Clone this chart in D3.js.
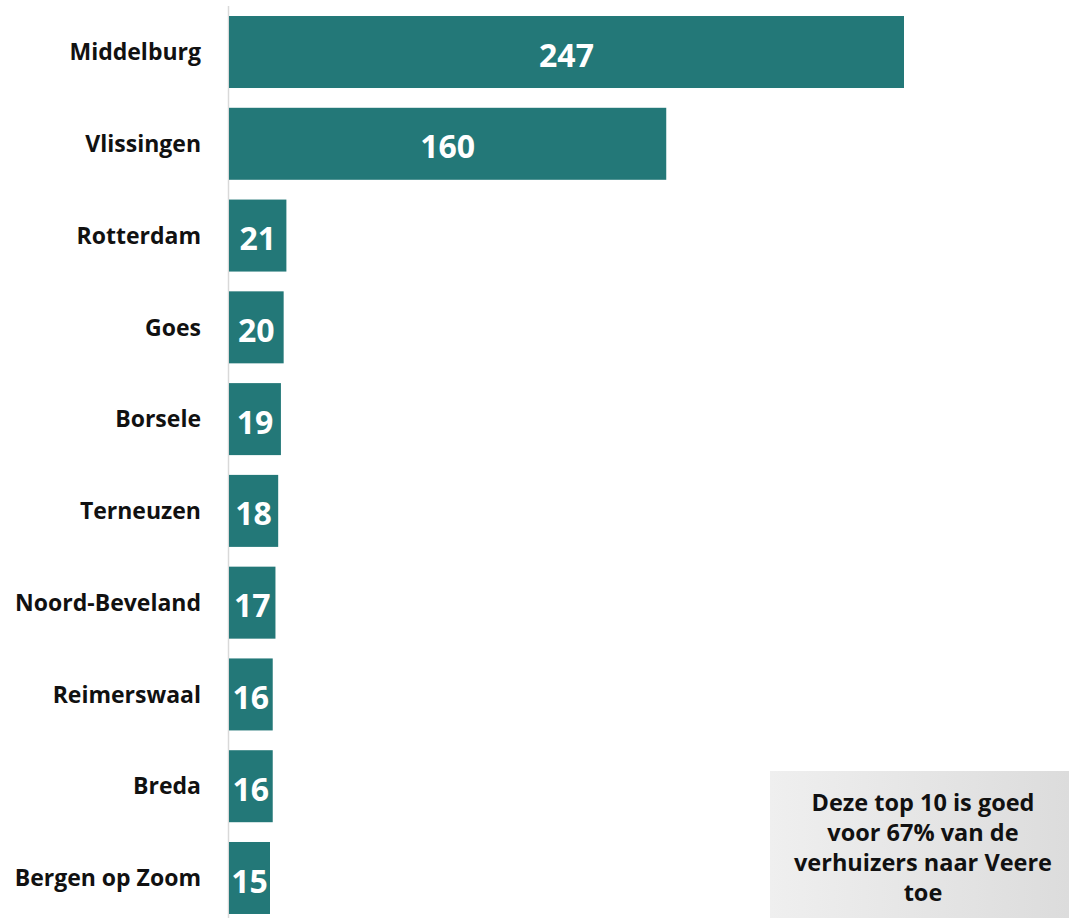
<!DOCTYPE html>
<html><head><meta charset="utf-8">
<script src="https://cdn.jsdelivr.net/npm/d3@7"></script>
<style>body{margin:0;background:#fff}svg{display:block}</style>
</head><body>
<svg id="c" width="1069" height="918"></svg>
<script>
const categories = ["Middelburg","Vlissingen","Rotterdam","Goes","Borsele","Terneuzen","Noord-Beveland","Reimerswaal","Breda","Bergen op Zoom"];
const values = [247,160,21,20,19,18,17,16,16,15];
const noteLines = ["Deze top 10 is goed","voor 67% van de","verhuizers naar Veere","toe"];

const svg = d3.select("#c");
const font = "'Open Sans', sans-serif";
const x = d3.scaleLinear().domain([0,247]).range([229,904]);
const y = d3.scaleBand().domain(categories).range([6.1,923.9]).paddingInner(0.2155).paddingOuter(0.108);

svg.append("line").attr("x1",228.5).attr("x2",228.5).attr("y1",6).attr("y2",918)
  .attr("stroke","#d9d9d9").attr("stroke-width",1.5);

svg.selectAll("rect.bar").data(values).join("rect").attr("class","bar")
  .attr("x",x(0)).attr("y",(d,i)=>y(categories[i])).attr("width",d=>x(d)-x(0))
  .attr("height",y.bandwidth()).attr("fill","#237878");

svg.selectAll("text.val").data(values).join("text").attr("class","val")
  .attr("x",d=>(x(0)+x(d))/2).attr("y",(d,i)=>y(categories[i])+y.bandwidth()/2+3)
  .attr("dy","0.36em").attr("text-anchor","middle").attr("fill","#fff")
  .attr("font-family",font).attr("font-weight",700).attr("font-size",32).text(d=>d);

svg.selectAll("text.cat").data(categories).join("text").attr("class","cat")
  .attr("x",201).attr("y",d=>y(d)+y.bandwidth()/2).attr("dy","0.36em")
  .attr("text-anchor","end").attr("fill","#111").attr("font-family",font)
  .attr("font-weight",700).attr("font-size",23).text(d=>d);

const defs = svg.append("defs");
const g = defs.append("linearGradient").attr("id","bg").attr("x1","0").attr("x2","1").attr("y1","0").attr("y2","0");
g.append("stop").attr("offset","0").attr("stop-color","#efefef");
g.append("stop").attr("offset","1").attr("stop-color","#dcdcdc");
svg.append("rect").attr("x",770).attr("y",771).attr("width",299).attr("height",147).attr("fill","url(#bg)");
svg.append("text").attr("text-anchor","middle").attr("font-family",font).attr("font-weight",700)
  .attr("font-size",23.5).attr("fill","#111")
  .selectAll("tspan").data(noteLines).join("tspan")
  .attr("x",923).attr("y",(d,i)=>811+i*30).text(d=>d);
</script>
</body></html>
